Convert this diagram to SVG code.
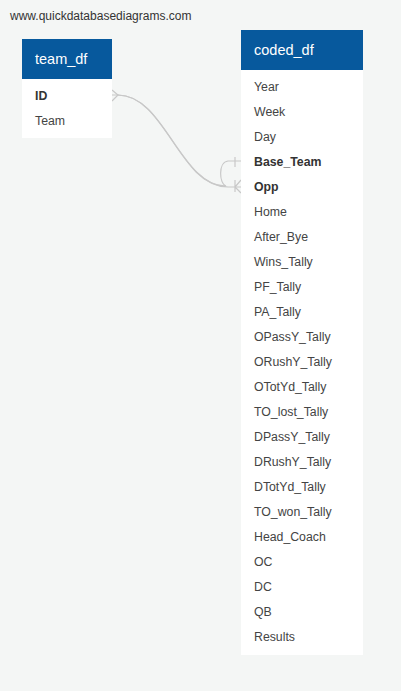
<svg xmlns="http://www.w3.org/2000/svg" width="401" height="691" viewBox="0 0 401 691">
<style>
.hdr{fill:#07599d}
.body{fill:#ffffff}
.ht{font-family:"Liberation Sans",Arial,sans-serif;font-size:14.5px;fill:#ffffff}
.rt{font-family:"Liberation Sans",Arial,sans-serif;font-size:12.3px;fill:#444444}
.pk{font-weight:bold;fill:#333333}
.wm{font-family:"Liberation Sans",Arial,sans-serif;font-size:12px;fill:#333333}
.ln{fill:none;stroke:#c8c8c8;stroke-width:1.2}
</style>
<rect x="0" y="0" width="401" height="691" fill="#f4f6f5"/>
<text class="wm" x="10" y="20">www.quickdatabasediagrams.com</text>
<g id="connectors">
<path class="ln" d="M112,95 H118 C165,95 180,187 228,187 H241"/>
<path class="ln" d="M118,95 C165,95 180,187 226,186 C219,184 218,162 228,161 H241"/>
<path class="ln" d="M112,90 L118,95 L112,101"/>
<path class="ln" d="M235,157 V167"/>
<path class="ln" d="M235,180 V192 M241,180 L235,187 L241,193"/>
</g>
<g id="team_df">
<rect class="body" x="22" y="79" width="90" height="59"/>
<rect class="hdr" x="22" y="39" width="90" height="40"/>
<text class="ht" x="35" y="64">team_df</text>
<text class="rt pk" x="35" y="100">ID</text>
<text class="rt" x="35" y="125">Team</text>
</g>
<g id="coded_df">
<rect class="body" x="241" y="70" width="122" height="585"/>
<rect class="hdr" x="241" y="30" width="122" height="40"/>
<text class="ht" x="254" y="55">coded_df</text>
<text class="rt" x="254" y="91">Year</text>
<text class="rt" x="254" y="116">Week</text>
<text class="rt" x="254" y="141">Day</text>
<text class="rt pk" x="254" y="166">Base_Team</text>
<text class="rt pk" x="254" y="191">Opp</text>
<text class="rt" x="254" y="216">Home</text>
<text class="rt" x="254" y="241">After_Bye</text>
<text class="rt" x="254" y="266">Wins_Tally</text>
<text class="rt" x="254" y="291">PF_Tally</text>
<text class="rt" x="254" y="316">PA_Tally</text>
<text class="rt" x="254" y="341">OPassY_Tally</text>
<text class="rt" x="254" y="366">ORushY_Tally</text>
<text class="rt" x="254" y="391">OTotYd_Tally</text>
<text class="rt" x="254" y="416">TO_lost_Tally</text>
<text class="rt" x="254" y="441">DPassY_Tally</text>
<text class="rt" x="254" y="466">DRushY_Tally</text>
<text class="rt" x="254" y="491">DTotYd_Tally</text>
<text class="rt" x="254" y="516">TO_won_Tally</text>
<text class="rt" x="254" y="541">Head_Coach</text>
<text class="rt" x="254" y="566">OC</text>
<text class="rt" x="254" y="591">DC</text>
<text class="rt" x="254" y="616">QB</text>
<text class="rt" x="254" y="641">Results</text>
</g>
</svg>
